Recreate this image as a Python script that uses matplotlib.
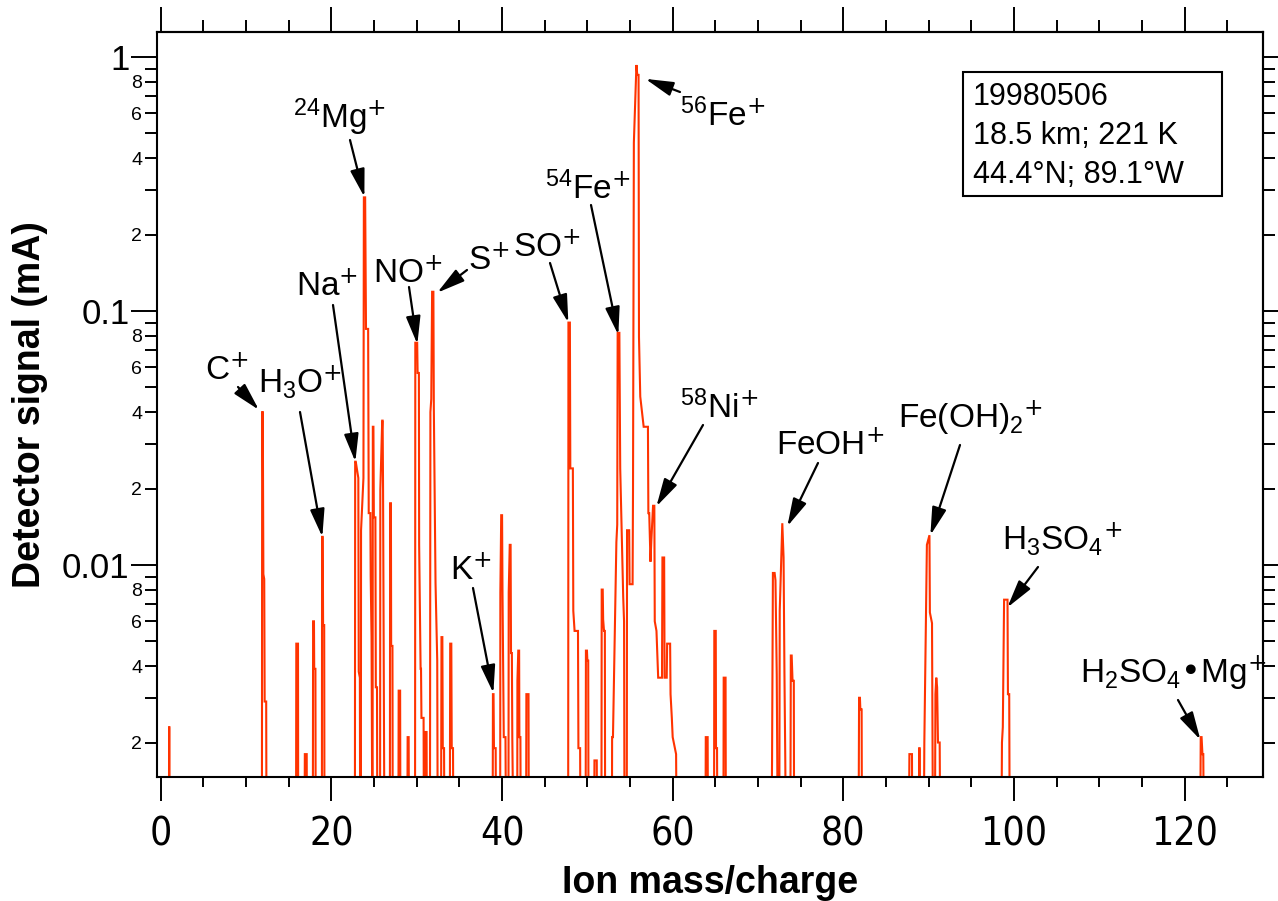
import matplotlib.pyplot as plt
from matplotlib.patches import Rectangle
from matplotlib.ticker import FixedLocator, FixedFormatter, MultipleLocator, NullFormatter

plt.rcParams['font.family'] = ['Liberation Sans', 'DejaVu Sans']
plt.rcParams['mathtext.default'] = 'regular'

W, H = 1278, 901
B = 1e-3  # signal below the axis floor

# ion trace: mass/charge and detector signal (mA), one peak per line
mz = [
    0.95, 0.97, 1.00, 1.02,
    11.85, 11.88, 11.95, 12.02, 12.12, 12.17, 12.35, 12.38,
    15.85, 15.88, 16.08, 16.10,
    16.85, 16.88, 17.10, 17.12,
    17.82, 17.85, 17.95, 17.98, 18.12, 18.15,
    18.88, 18.90, 18.98, 19.02, 19.15, 19.18,
    22.75, 22.78, 22.85, 23.15, 23.20, 23.33, 23.36,
    23.45, 23.47, 23.75, 23.80, 23.95, 24.05, 24.30, 24.37, 24.56, 24.60, 24.70, 24.78,
    24.82, 24.85, 24.92, 24.97, 25.15, 25.20, 25.34, 25.37,
    25.70, 25.73, 25.95, 26.00, 26.05, 26.15, 26.20,
    26.85, 26.88, 26.97, 27.00, 27.15, 27.18,
    27.85, 27.88, 28.05, 28.08,
    28.90, 28.93, 29.05, 29.08,
    29.80, 29.83, 30.05, 30.10, 30.25, 30.28, 30.45, 30.50, 30.55, 30.80, 30.83,
    31.00, 31.03, 31.15, 31.18,
    31.55, 31.60, 31.70, 31.80, 31.95, 32.00, 32.20, 32.40, 32.45,
    32.85, 32.90, 33.00, 33.05, 33.20, 33.23,
    33.88, 33.92, 34.05, 34.10, 34.25, 34.28,
    38.90, 38.93, 39.00, 39.05, 39.25, 39.28,
    39.78, 39.80, 39.90, 40.00, 40.05, 40.20, 40.40, 40.45,
    40.75, 40.78, 40.90, 41.00, 41.05, 41.15, 41.20, 41.30,
    41.78, 41.80, 41.90, 42.00, 42.03, 42.15, 42.18,
    42.82, 42.85, 43.10, 43.13,
    47.75, 47.78, 47.95, 48.00, 48.30, 48.35, 48.50, 48.90, 48.95, 49.15, 49.18,
    49.80, 49.83, 49.95, 50.00, 50.10, 50.13,
    50.80, 50.83, 51.10, 51.13,
    51.65, 51.68, 51.80, 51.85, 51.95, 52.05, 52.08,
    52.88, 52.90, 53.00, 53.40, 53.50, 53.55, 53.75, 53.85, 54.20, 54.30, 54.35,
    54.62, 54.65, 54.90, 54.95, 55.30, 55.35, 55.45, 55.75, 55.85, 56.00,
    56.05, 56.20, 56.40, 56.60, 56.70, 57.10, 57.15, 57.25, 57.40, 57.50,
    57.70, 57.85, 57.90, 58.10, 58.30, 58.50, 58.75, 58.80, 59.00, 59.05,
    59.30, 59.35, 59.70, 59.75, 59.90, 60.00, 60.40, 60.45,
    63.85, 63.88, 64.10, 64.13,
    64.85, 64.88, 65.05, 65.08, 65.20, 65.23,
    65.95, 65.98, 66.20, 66.23,
    71.60, 71.65, 71.75, 71.95, 72.05, 72.20, 72.30, 72.50, 72.55, 72.85, 73.00, 73.10, 73.20, 73.25,
    73.80, 73.85, 73.95, 74.05, 74.20, 74.23,
    81.80, 81.85, 81.95, 82.00, 82.15, 82.18,
    87.70, 87.75, 88.05, 88.08,
    88.88, 88.90, 88.95, 88.97,
    89.45, 89.50, 89.80, 90.10, 90.15, 90.40, 90.45, 90.50,
    90.75, 90.80, 90.90, 91.00, 91.10, 91.30, 91.35,
    98.55, 98.60, 98.70, 98.85, 99.25, 99.30, 99.45, 99.50,
    121.85, 121.90, 122.00, 122.10, 122.20, 122.25,
]
signal = [
    B, 0.0023, 0.0023, B,
    B, 0.040, 0.040, 0.0092, 0.0088, 0.0029, 0.0029, B,
    B, 0.0049, 0.0049, B,
    B, 0.0018, 0.0018, B,
    B, 0.0060, 0.0060, 0.0039, 0.0039, B,
    B, 0.0129, 0.0129, 0.0058, 0.0058, B,
    B, 0.0255, 0.0255, 0.022, 0.0038, 0.0036, B,
    B, 0.0137, 0.022, 0.28, 0.28, 0.085, 0.085, 0.016, 0.016, 0.009, 0.0052, B,
    B, 0.035, 0.035, 0.0154, 0.0154, 0.0033, 0.0033, B,
    B, 0.0198, 0.037, 0.037, 0.0198, 0.0030, B,
    B, 0.0175, 0.0175, 0.0048, 0.0048, B,
    B, 0.0032, 0.0032, B,
    B, 0.0021, 0.0021, B,
    B, 0.075, 0.075, 0.057, 0.057, 0.012, 0.0039, 0.0039, 0.0025, 0.0025, B,
    B, 0.0022, 0.0022, B,
    B, 0.040, 0.045, 0.119, 0.119, 0.042, 0.0085, 0.0042, B,
    B, 0.0052, 0.0052, 0.0019, 0.0019, B,
    B, 0.0049, 0.0049, 0.0019, 0.0019, B,
    B, 0.0031, 0.0031, 0.0019, 0.0019, B,
    B, 0.0078, 0.0157, 0.0157, 0.0078, 0.0021, 0.0021, B,
    B, 0.0078, 0.012, 0.012, 0.0045, 0.0045, 0.0021, B,
    B, 0.0035, 0.0046, 0.0046, 0.0021, 0.0021, B,
    B, 0.0031, 0.0031, B,
    B, 0.090, 0.090, 0.024, 0.024, 0.0066, 0.0055, 0.0055, 0.0019, 0.0019, B,
    B, 0.0046, 0.0046, 0.0042, 0.0042, B,
    B, 0.0017, 0.0017, B,
    B, 0.0080, 0.0080, 0.0061, 0.0055, 0.0055, B,
    B, 0.0021, 0.0021, 0.0123, 0.0144, 0.082, 0.082, 0.024, 0.0075, 0.0060, B,
    B, 0.0137, 0.0137, 0.0084, 0.0084, 0.0198, 0.46, 0.93, 0.85, 0.85,
    0.079, 0.046, 0.040, 0.035, 0.035, 0.035, 0.016, 0.016, 0.0103, 0.0125,
    0.0171, 0.0171, 0.006, 0.0055, 0.0036, 0.0036, 0.0036, 0.0107, 0.0107, 0.0036,
    0.0036, 0.0049, 0.0049, 0.0031, 0.0025, 0.0021, 0.0018, B,
    B, 0.0021, 0.0021, B,
    B, 0.0055, 0.0055, 0.0019, 0.0019, B,
    B, 0.0036, 0.0036, B,
    B, 0.0017, 0.0093, 0.0093, 0.0087, 0.0037, B, B, 0.0066, 0.0146, 0.0107, 0.0038, 0.0017, B,
    B, 0.0044, 0.0044, 0.0035, 0.0035, B,
    B, 0.0030, 0.0030, 0.0027, 0.0027, B,
    B, 0.0018, 0.0018, B,
    B, 0.0019, 0.0019, B,
    B, 0.0020, 0.0120, 0.0131, 0.0065, 0.0059, 0.0026, B,
    B, 0.0031, 0.0036, 0.0033, 0.0020, 0.0020, B,
    B, 0.0020, 0.0023, 0.0073, 0.0073, 0.0031, 0.0031, B,
    B, 0.0021, 0.0021, 0.0018, 0.0018, B,
]

# peak labels: text, arrow tip (mass, signal), arrow tail and text baseline (pixels from top-left)
P = r'{\text{+}}'
labels = [
    ("$C^%s$" % P,               11.50, 0.0408, (238, 387), (205, 380)),
    ("$H_3O^%s$" % P,            18.93, 0.0129, (300, 412), (258, 393)),
    ("$Na^%s$" % P,              22.80, 0.0255, (333, 305), (296, 296)),
    ("$^{24}Mg^%s$" % P,         23.86, 0.281,  (350, 140), (293, 128)),
    ("$NO^%s$" % P,              30.07, 0.0740, (409, 287), (373, 283)),
    ("$S^%s$" % P,               32.40, 0.118,  (467, 270), (468, 270)),
    ("$SO^%s$" % P,              47.77, 0.0900, (550, 263), (513, 257)),
    ("$^{54}Fe^%s$" % P,         53.63, 0.0805, (591, 205), (545, 199)),
    ("$^{56}Fe^%s$" % P,         56.80, 0.820,  (680, 92),  (680, 126)),
    ("$^{58}Ni^%s$" % P,         58.09, 0.0170, (703, 425), (680, 418)),
    ("$K^%s$" % P,               38.98, 0.00313, (473, 588), (450, 580)),
    ("$FeOH^%s$" % P,            73.44, 0.0142, (818, 463), (776, 455)),
    ("$Fe(OH)_2{}^%s$" % P,      90.21, 0.0131, (960, 445), (898, 428)),
    ("$H_3SO_4{}^%s$" % P,       99.23, 0.0068, (1038, 567), (1002, 550)),
    ("$H_2SO_4$•$Mg^%s$" % P,   121.86, 0.00205, (1178, 700), (1080, 683)),
]


def fig_frac(p):
    return p[0] / W, 1 - p[1] / H


fig = plt.figure(figsize=(W / 100, H / 100), dpi=100)
ax = fig.add_axes([157 / W, 1 - 777 / H, (1263 - 157) / W, (777 - 32) / H])

ax.plot(mz, signal, color='#ff3300', lw=1.5, solid_joinstyle='miter')
ax.set_yscale('log')
ax.set_xlim(-0.45, 129.2)
ax.set_ylim(0.001463, 1.254)

# x ticks
ax.xaxis.set_major_locator(MultipleLocator(20))
ax.xaxis.set_minor_locator(MultipleLocator(5))
ax.tick_params(axis='x', which='major', direction='out', length=17, width=1.4,
               labelsize=28, pad=11)
ax.tick_params(axis='x', which='minor', direction='out', length=7.5, width=1.4)
for t in ax.get_xticklabels():
    t.set_family('DejaVu Sans')
    t.set_stretch('condensed')

# y ticks: decades plus labelled 2,4,6,8 minors
majors = [0.001, 0.01, 0.1, 1.0]
ax.yaxis.set_major_locator(FixedLocator(majors))
ax.yaxis.set_major_formatter(FixedFormatter(['0.001', '0.01', '0.1', '1']))
minors = [k * d for d in [0.001, 0.01, 0.1] for k in range(2, 10)]
minor_txt = [str(k) if k % 2 == 0 else '' for d in [0.001, 0.01, 0.1] for k in range(2, 10)]
ax.yaxis.set_minor_locator(FixedLocator(minors))
ax.yaxis.set_minor_formatter(FixedFormatter(minor_txt))
ax.tick_params(axis='y', which='major', direction='out', length=18.7, width=1.4,
               labelsize=25, pad=1)
ax.tick_params(axis='y', which='minor', direction='out', length=8.6, width=1.4,
               labelsize=14, pad=2)

for s in ax.spines.values():
    s.set_linewidth(1.5)

# ticks on the top and right frame
top = ax.secondary_xaxis('top')
top.xaxis.set_major_locator(MultipleLocator(20))
top.xaxis.set_minor_locator(MultipleLocator(5))
top.tick_params(which='major', direction='out', length=18, width=1.4, labeltop=False)
top.tick_params(which='minor', direction='out', length=8.6, width=1.4)
top.xaxis.set_major_formatter(NullFormatter())
right = ax.secondary_yaxis('right')
right.yaxis.set_major_locator(FixedLocator(majors))
right.yaxis.set_minor_locator(FixedLocator(minors))
right.yaxis.set_major_formatter(NullFormatter())
right.yaxis.set_minor_formatter(NullFormatter())
right.tick_params(which='major', direction='out', length=11, width=1.4)
right.tick_params(which='minor', direction='out', length=8.6, width=1.4)
for sx in (top, right):
    for s in sx.spines.values():
        s.set_linewidth(1.5)

ax.set_xlabel('Ion mass/charge', fontsize=27, fontweight='bold')
ax.xaxis.set_label_coords(0.5, -0.118)
ax.set_ylabel('Detector signal (mA)', fontsize=27, fontweight='bold', labelpad=10)

for txt, m, s, tail, pos in labels:
    ax.annotate('', xy=(m, s), xycoords='data', xytext=fig_frac(tail),
                textcoords='figure fraction',
                arrowprops=dict(arrowstyle='-|>,head_length=0.85,head_width=0.22',
                                mutation_scale=20, lw=1.6, color='black',
                                shrinkA=0, shrinkB=0))
    fig.text(*fig_frac(pos), txt, fontsize=24, ha='left', va='baseline')

# flight info box
fig.patches.append(Rectangle(fig_frac((963, 196)), (1222 - 963) / W, (196 - 72) / H,
                             transform=fig.transFigure, fill=False, lw=1.5,
                             edgecolor='black'))
fig.text(*fig_frac((973, 82)), '19980506\n18.5 km; 221 K\n44.4°N; 89.1°W',
         fontsize=22, ha='left', va='top', linespacing=1.4)

fig.savefig('out.png', dpi=100)
